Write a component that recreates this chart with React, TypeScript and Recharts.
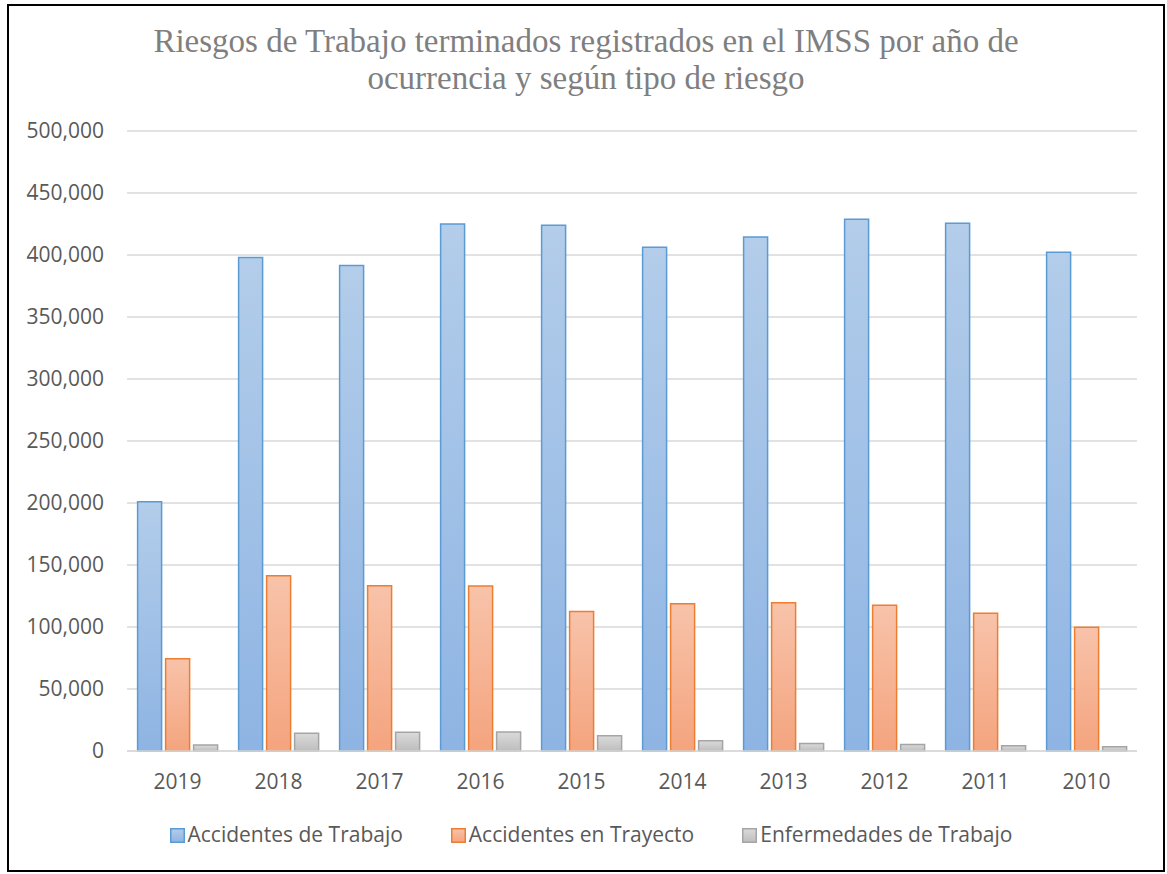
import React from 'react';
import { BarChart, Bar, XAxis, YAxis, CartesianGrid } from 'recharts';

const years = ['2019', '2018', '2017', '2016', '2015', '2014', '2013', '2012', '2011', '2010'];
const accidentesTrabajo = [201000, 398000, 391500, 425000, 424000, 406200, 414500, 428900, 425700, 402300];
const accidentesTrayecto = [74300, 141400, 133200, 133000, 112500, 118800, 119500, 117600, 111000, 99800];
const enfermedadesTrabajo = [4800, 14300, 15100, 15300, 12200, 8300, 6000, 5200, 4300, 3500];
const yTicks = [0, 50000, 100000, 150000, 200000, 250000, 300000, 350000, 400000, 450000, 500000];

const series = [
  { key: 'trabajo', name: 'Accidentes de Trabajo', values: accidentesTrabajo, top: '#b3cdea', bottom: '#8eb4e3', stroke: '#5b9bd5' },
  { key: 'trayecto', name: 'Accidentes en Trayecto', values: accidentesTrayecto, top: '#f8c3aa', bottom: '#f4a47e', stroke: '#ed7d31' },
  { key: 'enfermedades', name: 'Enfermedades de Trabajo', values: enfermedadesTrabajo, top: '#dadada', bottom: '#bebebe', stroke: '#a5a5a5' },
];

const data = years.map((year, i) => {
  const row: Record<string, string | number> = { year };
  series.forEach((s) => { row[s.key] = s.values[i]; });
  return row;
});

const tickStyle = { fontSize: 21, fill: '#595959', fontFamily: '"Open Sans", sans-serif' };

const App: React.FC = () => {
  return (
    <div
      style={{
        position: 'absolute',
        left: 7,
        top: 4,
        width: 1158,
        height: 868,
        border: '2px solid #000',
        boxSizing: 'border-box',
        background: '#fff',
      }}
    >
      <div
        style={{
          position: 'absolute',
          top: 17,
          left: 0,
          width: '100%',
          textAlign: 'center',
          fontFamily: '"Liberation Serif", "Times New Roman", serif',
          fontSize: 33,
          lineHeight: '37px',
          color: '#7f7f7f',
        }}
      >
        Riesgos de Trabajo terminados registrados en el IMSS por año de
        <br />
        ocurrencia y según tipo de riesgo
      </div>

      <div style={{ position: 'absolute', left: 0, top: 0 }}>
        <BarChart
          width={1154}
          height={800}
          data={data}
          margin={{ top: 125, right: 26, left: 0, bottom: 15 }}
          barGap={4}
          barCategoryGap="10.5%"
        >
          <defs>
            {series.map((s) => (
              <linearGradient key={s.key} id={`grad-${s.key}`} x1="0" y1="0" x2="0" y2="1">
                <stop offset="0%" stopColor={s.top} />
                <stop offset="100%" stopColor={s.bottom} />
              </linearGradient>
            ))}
          </defs>
          <CartesianGrid vertical={false} stroke="#d9d9d9" strokeWidth={1.5} />
          <XAxis
            dataKey="year"
            height={40}
            tick={tickStyle}
            tickLine={false}
            axisLine={{ stroke: '#d9d9d9', strokeWidth: 1.5 }}
            tickMargin={17}
          />
          <YAxis
            width={118}
            domain={[0, 500000]}
            ticks={yTicks}
            tick={tickStyle}
            tickLine={false}
            axisLine={false}
            tickMargin={17}
            tickFormatter={(v: number) => v.toLocaleString('en-US')}
          />
          {series.map((s) => (
            <Bar
              key={s.key}
              dataKey={s.key}
              name={s.name}
              fill={`url(#grad-${s.key})`}
              stroke={s.stroke}
              strokeWidth={1.5}
              isAnimationActive={false}
            />
          ))}
        </BarChart>
      </div>

      <div
        style={{
          position: 'absolute',
          top: 814,
          left: 5,
          width: '100%',
          display: 'flex',
          justifyContent: 'center',
          gap: 48,
          fontFamily: '"Open Sans", sans-serif',
          fontSize: 21,
          lineHeight: '28px',
          color: '#595959',
        }}
      >
        {series.map((s) => (
          <div key={s.key} style={{ display: 'flex', alignItems: 'center', gap: 3 }}>
            <svg width={15} height={15} style={{ marginTop: 2 }}>
              <defs>
                <linearGradient id={`leg-${s.key}`} x1="0" y1="0" x2="0" y2="1">
                  <stop offset="0%" stopColor={s.top} />
                  <stop offset="100%" stopColor={s.bottom} />
                </linearGradient>
              </defs>
              <rect x={0.75} y={0.75} width={13.5} height={13.5} fill={`url(#leg-${s.key})`} stroke={s.stroke} strokeWidth={1.5} />
            </svg>
            <span>{s.name}</span>
          </div>
        ))}
      </div>
    </div>
  );
};

export default App;
